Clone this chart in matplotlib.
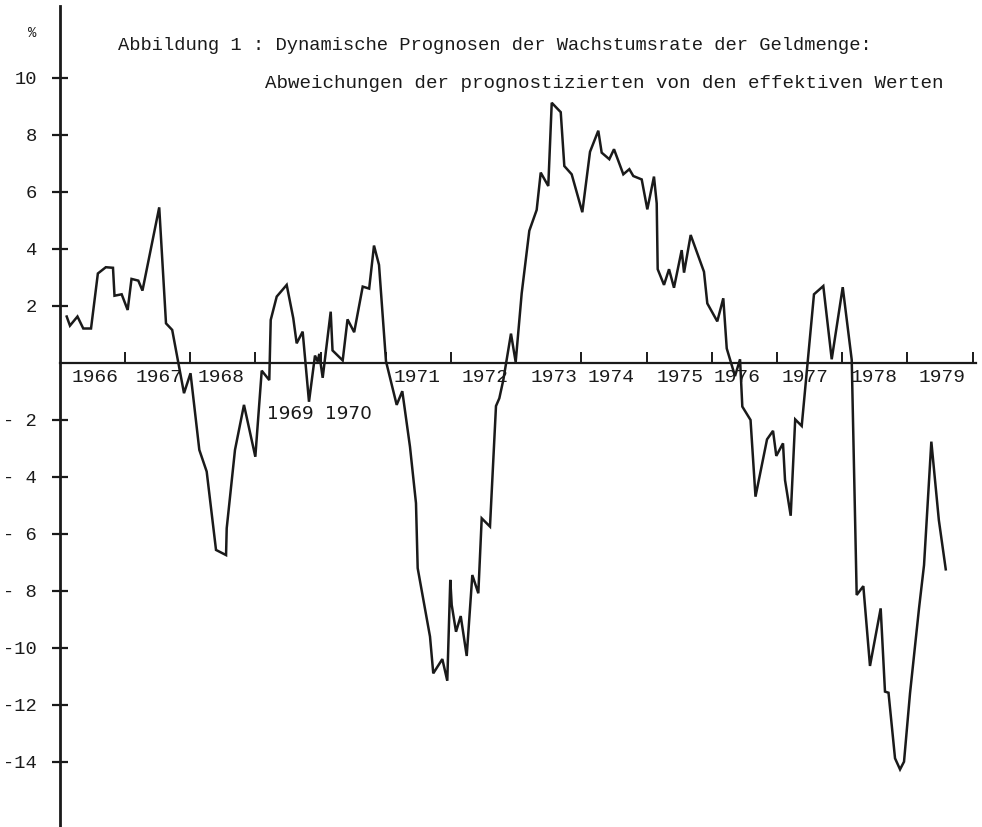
import matplotlib
matplotlib.use('Agg')
from matplotlib import pyplot as plt

# deviations of the dynamic forecasts (percentage points)
# x is the date in decimal years, y the deviation
t_year = [1966.106, 1966.156, 1966.271, 1966.360, 1966.479, 1966.584, 1966.706, 1966.816,
          1966.839, 1966.949, 1967.041, 1967.100, 1967.204, 1967.268, 1967.525, 1967.629,
          1967.724, 1967.905, 1968.005, 1968.140, 1968.253, 1968.396, 1968.550, 1968.560,
          1968.687, 1968.825, 1968.999, 1969.097, 1969.213, 1969.235, 1969.327, 1969.480,
          1969.581, 1969.633, 1969.725, 1969.822, 1969.914, 1969.956, 1969.980, 1970.032,
          1970.155, 1970.183, 1970.339, 1970.413, 1970.515, 1970.646, 1970.745, 1970.819,
          1970.896, 1971.003, 1971.167, 1971.253, 1971.371, 1971.463, 1971.489, 1971.678,
          1971.728, 1971.867, 1971.943, 1971.989, 1972.011, 1972.077, 1972.149, 1972.241,
          1972.327, 1972.419, 1972.471, 1972.598, 1972.690, 1972.741, 1972.802, 1972.920,
          1972.992, 1973.084, 1973.201, 1973.314, 1973.376, 1973.492, 1973.545, 1973.683,
          1973.738, 1973.851, 1974.014, 1974.132, 1974.259, 1974.311, 1974.428, 1974.500,
          1974.643, 1974.735, 1974.796, 1974.925, 1975.011, 1975.113, 1975.155, 1975.170,
          1975.267, 1975.344, 1975.420, 1975.538, 1975.574, 1975.676, 1975.880, 1975.931,
          1976.084, 1976.176, 1976.229, 1976.356, 1976.433, 1976.468, 1976.594, 1976.670,
          1976.847, 1976.939, 1976.989, 1977.092, 1977.123, 1977.210, 1977.279, 1977.379,
          1977.567, 1977.710, 1977.839, 1978.008, 1978.146, 1978.222, 1978.324, 1978.426,
          1978.590, 1978.656, 1978.710, 1978.810, 1978.887, 1978.948, 1979.040, 1979.178,
          1979.255, 1979.367, 1979.482, 1979.588]
abweichung = [1.62, 1.30, 1.62, 1.20, 1.20, 3.13, 3.35, 3.33,
              2.35, 2.40, 1.85, 2.94, 2.88, 2.53, 5.45, 1.38,
              1.15, -1.07, -0.37, -3.06, -3.82, -6.57, -6.75, -5.81,
              -3.06, -1.48, -3.30, -0.28, -0.61, 1.50, 2.32, 2.73,
              1.56, 0.68, 1.09, -1.37, 0.25, 0.04, 0.31, -0.53,
              1.79, 0.43, 0.08, 1.52, 1.07, 2.67, 2.60, 4.11,
              3.43, 0.05, -1.48, -1.00, -2.95, -4.93, -7.21, -9.61,
              -10.90, -10.40, -11.16, -7.62, -8.50, -9.44, -8.89, -10.29,
              -7.45, -8.09, -5.46, -5.75, -1.52, -1.25, -0.61, 1.02,
              0.02, 2.43, 4.63, 5.36, 6.67, 6.20, 9.12, 8.79,
              6.90, 6.61, 5.28, 7.40, 8.14, 7.37, 7.14, 7.49,
              6.61, 6.79, 6.55, 6.43, 5.38, 6.53, 5.59, 3.28,
              2.73, 3.28, 2.63, 3.95, 3.16, 4.48, 3.19, 2.08,
              1.45, 2.26, 0.50, -0.47, 0.12, -1.54, -2.01, -4.70,
              -2.69, -2.39, -3.27, -2.83, -4.12, -5.37, -1.99, -2.22,
              2.40, 2.69, 0.12, 2.65, 0.10, -8.15, -7.84, -10.64,
              -8.62, -11.54, -11.58, -13.88, -14.27, -14.00, -11.60, -8.62,
              -7.10, -2.77, -5.52, -7.25]

ytick_vals = [10, 8, 6, 4, 2, -2, -4, -6, -8, -10, -12, -14]
ytick_text = ['10', '8', '6', '4', '2', '- 2', '- 4', '- 6', '- 8', '-10', '-12', '-14']
year_ticks = list(range(1967, 1981))
year_names = ['1966', '1967', '1968', '1969', '1970', '1971', '1972',
              '1973', '1974', '1975', '1976', '1977', '1978', '1979']

# where the year names sit on the scan (the typist moved 1969/1970 down)
year_name_x = [1966.54, 1967.52, 1968.47, 1969.53, 1970.42, 1971.48, 1972.52,
               1973.58, 1974.45, 1975.51, 1976.39, 1977.43, 1978.49, 1979.53]
lowered = ['1969', '1970']

mono = 'Liberation Mono'
ink = '#1a1a1a'

fig = plt.figure(figsize=(9.82, 8.27), dpi=100)
ax = fig.add_axes([0, 0, 1, 1])
ax.set_xlim(1965.083, 1980.144)
ax.set_ylim(-16.291, 12.726)

ax.plot(t_year, abweichung, color=ink, lw=1.8, solid_joinstyle='miter')

ax.spines['top'].set_visible(False)
ax.spines['right'].set_visible(False)
ax.spines['left'].set_position(('data', 1966))
ax.spines['left'].set_bounds(-16.3, 12.5)
ax.spines['left'].set_linewidth(2.0)
ax.spines['left'].set_color(ink)
ax.spines['bottom'].set_position(('data', 0))
ax.spines['bottom'].set_bounds(1966, 1980.05)
ax.spines['bottom'].set_linewidth(1.6)
ax.spines['bottom'].set_color(ink)

ax.set_yticks(ytick_vals)
ax.set_yticklabels(ytick_text, fontfamily=mono, fontsize=13.5, color=ink)
ax.tick_params(axis='y', direction='inout', length=12, width=1.6, pad=10.4, colors=ink)

ax.set_xticks(year_ticks)
ax.set_xticklabels([])
ax.tick_params(axis='x', direction='in', length=8, width=1.4, colors=ink)

for name, xpos in zip(year_names, year_name_x):
    if name in lowered:
        ax.text(xpos, -1.80, name, ha='center', va='center', fontsize=13.2,
                fontfamily='DejaVu Sans', color=ink)
    else:
        ax.text(xpos, -0.52, name, ha='center', va='center', fontsize=14,
                fontfamily=mono, color=ink)

fig.text(32 / 982, 1 - 33 / 827, '%', fontsize=10, fontfamily=mono, color=ink,
         ha='center', va='center')
fig.text(118 / 982, 1 - 45 / 827,
         'Abbildung 1 : Dynamische Prognosen der Wachstumsrate der Geldmenge:',
         fontsize=13.5, fontfamily=mono, color=ink, ha='left', va='center')
fig.text(265 / 982, 1 - 83 / 827,
         'Abweichungen der prognostizierten von den effektiven Werten',
         fontsize=13.8, fontfamily=mono, color=ink, ha='left', va='center')

fig.savefig('out.png', dpi=100)
